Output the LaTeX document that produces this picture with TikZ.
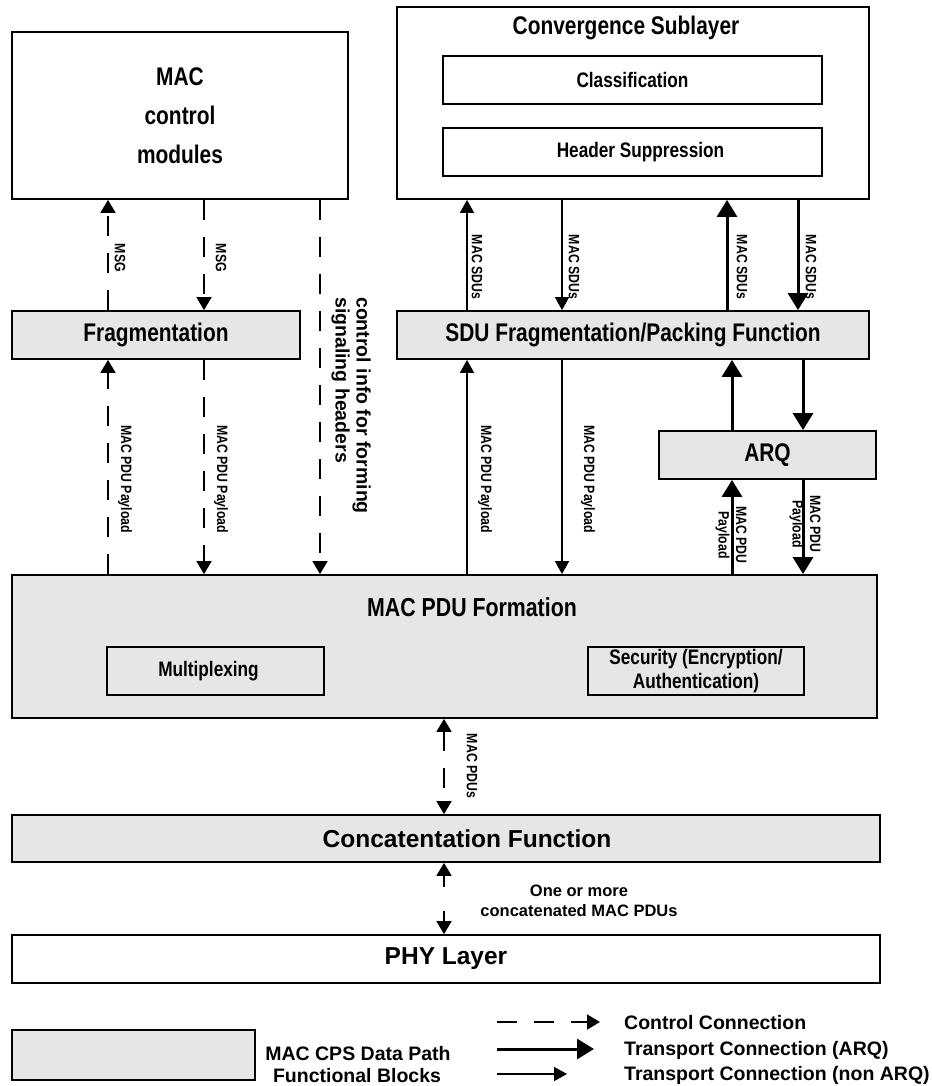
\documentclass[tikz,border=0pt]{standalone}
\usepackage{fontspec}
\setmainfont{Liberation Sans}
\newfontfamily\narrowfont[FakeStretch=0.82]{Liberation Sans}
\usetikzlibrary{arrows.meta}
\definecolor{blockgray}{RGB}{230,230,230}
\begin{document}
\begin{tikzpicture}[x=1pt,y=-1pt,
  blk/.style={draw, line width=1.8pt, inner sep=0pt, align=center},
  big/.style={font=\narrowfont\bfseries\fontsize{25.5}{39}\selectfont},
  mid/.style={font=\narrowfont\bfseries\fontsize{21}{24}\selectfont},
  wide/.style={font=\bfseries\fontsize{24.5}{28}\selectfont},
  lbl/.style={font=\narrowfont\bfseries\fontsize{15}{17.5}\selectfont, rotate=-90, inner sep=0pt, align=center},
  legtext/.style={font=\bfseries\fontsize{19.5}{23}\selectfont, inner sep=0pt},
  dsh/.style={line width=1.8pt, dash pattern=on 20pt off 17pt},
  ctrl/.style={dsh, -{Triangle[width=15pt,length=13pt]}},
  ctrlboth/.style={dsh, {Triangle[width=15pt,length=13pt]}-{Triangle[width=15pt,length=13pt]}},
  plain/.style={line width=1.6pt, -{Triangle[width=14pt,length=13pt]}},
  heavy/.style={line width=3pt, -{Triangle[width=20pt,length=17pt]}}
]
\useasboundingbox (0,0) rectangle (931,1086);

% ---------- blocks ----------
\node[blk, big, minimum width=336pt, minimum height=167pt] (macctrl) at (180,115.5) {MAC\\control\\modules};

\node[blk, minimum width=472pt, minimum height=192pt] (cs) at (633,103) {};
\node[big, inner sep=0pt] (cstitle) at (626,28) {Convergence Sublayer};
\node[blk, mid, minimum width=379pt, minimum height=48pt] (class) at (632.5,80) {Classification};
\node[blk, mid, minimum width=379pt, minimum height=48pt] (hdr) at (632.5,152) {\hspace*{16pt}Header Suppression};

\node[blk, big, fill=blockgray, minimum width=288pt, minimum height=48pt] (frag) at (156,335) {Fragmentation};
\node[blk, big, fill=blockgray, minimum width=472pt, minimum height=48pt] (sdu) at (633,335) {SDU Fragmentation/Packing Function};
\node[blk, big, fill=blockgray, minimum width=217pt, minimum height=48pt] (arq) at (767.5,455) {ARQ};

\node[blk, fill=blockgray, minimum width=865pt, minimum height=143pt] (pdu) at (444.5,646.5) {};
\node[font=\narrowfont\bfseries\fontsize{26}{30}\selectfont, inner sep=0pt] (pdutitle) at (472,607) {MAC PDU Formation};
\node[blk, mid, minimum width=217pt, minimum height=48pt] (mux) at (215.5,671) {Multiplexing\hspace*{14pt}};
\node[blk, mid, minimum width=216pt, minimum height=48pt] (sec) at (696,671) {Security (Encryption/\\Authentication)};

\node[blk, fill=blockgray, minimum width=868pt, minimum height=47pt] (concat) at (446,838.5) {};
\node[wide, inner sep=0pt] (concattitle) at (467,838.5) {Concatentation Function};
\node[blk, font=\bfseries\fontsize{24.5}{28}\selectfont, minimum width=868pt, minimum height=48pt] (phy) at (446,959) {PHY Layer};

% ---------- vertical positions of the connectors ----------
\coordinate (c1) at (108,0);
\coordinate (c2) at (204,0);
\coordinate (c3) at (320,0);
\coordinate (c4) at (467,0);
\coordinate (c5) at (562,0);
\coordinate (c6) at (727,0);
\coordinate (c7) at (798,0);
\coordinate (c8) at (732,0);
\coordinate (c9) at (803,0);
\coordinate (c10) at (444,0);

% ---------- control connections ----------
\draw[ctrl] (frag.north -| c1) -- (macctrl.south -| c1);
\draw[ctrl] (macctrl.south -| c2) -- (frag.north -| c2);
\draw[ctrl] (macctrl.south -| c3) -- (pdu.north -| c3);
\draw[ctrl] (pdu.north -| c1) -- (frag.south -| c1);
\draw[ctrl] (frag.south -| c2) -- (pdu.north -| c2);
\draw[ctrlboth] (pdu.south -| c10) -- (concat.north -| c10);
\draw[line width=1.8pt, dash pattern=on 12pt off 24pt,
  {Triangle[width=15pt,length=13pt]}-{Triangle[width=15pt,length=13pt]}]
  (concat.south -| c10) -- (phy.north -| c10);

% ---------- transport connections, non ARQ ----------
\draw[plain] (sdu.north -| c4) -- (cs.south -| c4);
\draw[plain] (cs.south -| c5) -- (sdu.north -| c5);
\draw[plain] (pdu.north -| c4) -- (sdu.south -| c4);
\draw[plain] (sdu.south -| c5) -- (pdu.north -| c5);

% ---------- transport connections, ARQ ----------
\draw[heavy] (sdu.north -| c6) -- (cs.south -| c6);
\draw[heavy] (cs.south -| c7) -- (sdu.north -| c7);
\draw[heavy] (arq.north -| c8) -- (sdu.south -| c8);
\draw[heavy] (sdu.south -| c9) -- (arq.north -| c9);
\draw[heavy] (pdu.north -| c8) -- (arq.south -| c8);
\draw[heavy] (arq.south -| c9) -- (pdu.north -| c9);

% ---------- connector labels ----------
\node[lbl] (m1) at (120,258) {MSG};
\node[lbl] (m2) at (221,258) {MSG};
\node[lbl] (s1) at (477,267) {MAC SDUs};
\node[lbl] (s2) at (574,267) {MAC SDUs};
\node[lbl] (s3) at (742,267) {MAC SDUs};
\node[lbl] (s4) at (811,267) {MAC SDUs};
\node[lbl] (p1) at (125,479) {MAC PDU Payload};
\node[lbl] (p2) at (221,479) {MAC PDU Payload};
\node[lbl] (p3) at (485,479) {MAC PDU Payload};
\node[lbl] (p4) at (588,479) {MAC PDU Payload};
\node[lbl] (p5) at (731,535) {MAC PDU\\Payload};
\node[lbl] (p6) at (805,524) {MAC PDU\\Payload};
\node[font=\bfseries\fontsize{19.5}{21}\selectfont, rotate=-90, inner sep=0pt, align=left, anchor=north west]
  (ctrlinfo) at (371,297) {control info for forming\\signaling headers};
\node[lbl] (pdus) at (472,766) {MAC PDUs};
\node[font=\bfseries\fontsize{16.5}{20}\selectfont, inner sep=0pt, align=center] (concatlbl) at (579,901)
  {One or more\\concatenated MAC PDUs};

% ---------- legend ----------
\node[blk, fill=blockgray, minimum width=243pt, minimum height=50pt] (legbox) at (133.5,1055) {};
\node[legtext] (legdp) at (358,1054) {MAC CPS Data Path};
\node[legtext] (legfb) at (357,1076) {Functional Blocks};
\coordinate (la1) at (497,1022);
\coordinate (la2) at (600,1022);
\coordinate (lb1) at (497,1049);
\coordinate (lb2) at (594,1049);
\coordinate (lc1) at (497,1074);
\coordinate (lc2) at (567,1074);
\draw[ctrl] (la1) -- (la2);
\draw[heavy] (lb1) -- (lb2);
\draw[plain] (lc1) -- (lc2);
\node[legtext, anchor=west] (legc) at (624,1023) {Control Connection};
\node[legtext, anchor=west] (legt) at (624,1050) {Transport Connection (ARQ)};
\node[legtext, anchor=west] (legn) at (624,1075) {Transport Connection (non ARQ)};
\end{tikzpicture}
\end{document}
